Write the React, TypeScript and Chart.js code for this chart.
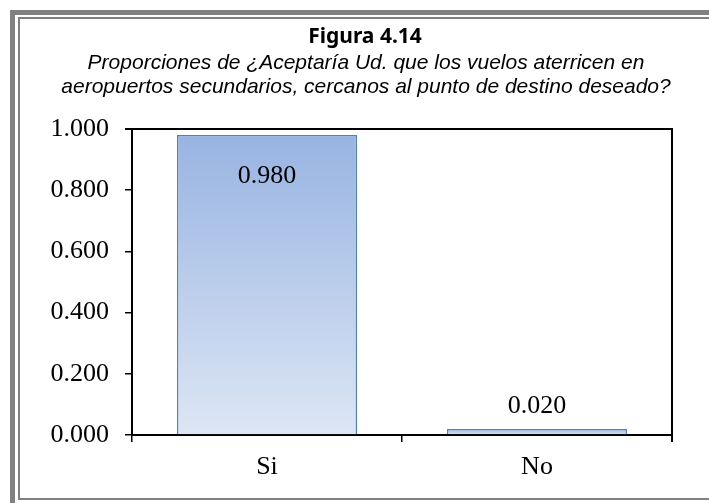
import React, { useEffect, useRef } from "react";
import { Chart, registerables } from "chart.js";

Chart.register(...registerables);

const categories = ["Si", "No"];
const values = [0.98, 0.02];
const yTicks = [0, 0.2, 0.4, 0.6, 0.8, 1.0];
const titleText = "Figura 4.14";
const subtitleLines = [
  "Proporciones de ¿Aceptaría Ud. que los vuelos aterricen en",
  "aeropuertos secundarios, cercanos al punto de destino deseado?",
];

const W = 709;
const H = 503;
const SERIF = "'Liberation Serif', 'Times New Roman', serif";

export default function App() {
  const ref = useRef<HTMLCanvasElement | null>(null);

  useEffect(() => {
    document.body.style.margin = "0";
    const canvas = ref.current;
    if (!canvas) return;

    const framePlugin = {
      id: "frame",
      beforeDraw(chart: any) {
        const ctx = chart.ctx;
        ctx.save();
        ctx.fillStyle = "#ffffff";
        ctx.fillRect(0, 0, W, H);
        ctx.fillStyle = "#808080";
        // outer thick frame
        ctx.fillRect(10, 10, W - 10, 5);
        ctx.fillRect(10, 10, 5, H - 10);
        // inner thin frame
        ctx.fillRect(18, 17, W - 18, 2);
        ctx.fillRect(18, 17, 2, H - 17 - 4);
        ctx.fillRect(18, 498, W - 18, 2);
        // title
        ctx.fillStyle = "#000000";
        ctx.textAlign = "center";
        ctx.textBaseline = "middle";
        ctx.font = "bold 21px 'Noto Sans', 'Liberation Sans', sans-serif";
        ctx.fillText(titleText, 365, 37);
        ctx.font = "italic 21px 'Liberation Sans', Arial, sans-serif";
        ctx.fillText(subtitleLines[0], 366, 63);
        ctx.fillText(subtitleLines[1], 366, 87);
        ctx.restore();
      },
      afterDraw(chart: any) {
        const ctx = chart.ctx;
        const a = chart.chartArea;
        ctx.save();
        ctx.strokeStyle = "#000000";
        ctx.lineWidth = 2;
        ctx.beginPath();
        ctx.moveTo(a.left - 7, a.top);
        ctx.lineTo(a.right, a.top);
        ctx.lineTo(a.right, a.bottom + 7);
        ctx.stroke();
        // data labels
        const meta = chart.getDatasetMeta(0);
        ctx.fillStyle = "#000000";
        ctx.font = "26px " + SERIF;
        ctx.textAlign = "center";
        ctx.textBaseline = "middle";
        meta.data.forEach((bar: any, i: number) => {
          const v = values[i];
          const label = v.toFixed(3);
          const height = bar.base - bar.y;
          if (height > 80) {
            ctx.fillText(label, bar.x, bar.y + 41);
          } else {
            ctx.fillText(label, bar.x, bar.y - 23);
          }
        });
        ctx.restore();
      },
    };

    const chart = new Chart(canvas, {
      type: "bar",
      data: {
        labels: categories,
        datasets: [
          {
            data: values,
            backgroundColor: (context: any) => {
              const ch = context.chart;
              const ys = ch.scales && ch.scales.y;
              if (!ch.chartArea || !ys || context.parsed === undefined) return "#b9cbea";
              const v = values[context.dataIndex];
              const top = ys.getPixelForValue(v);
              const bottom = ys.getPixelForValue(0);
              const g = ch.ctx.createLinearGradient(0, top, 0, bottom);
              g.addColorStop(0, "#98b4e2");
              g.addColorStop(1, "#dde6f4");
              return g;
            },
            borderColor: "#4f81bd",
            borderWidth: 1.5,
            borderSkipped: "bottom",
            barPercentage: 0.667,
            categoryPercentage: 1,
          },
        ],
      },
      options: {
        responsive: false,
        animation: false,
        devicePixelRatio: 1,
        layout: { padding: { left: 18, right: 37, top: 129, bottom: 25 } },
        plugins: {
          legend: { display: false },
          tooltip: { enabled: false },
          title: { display: false },
        },
        scales: {
          x: {
            afterFit: (s: any) => {
              s.height = 43;
            },
            grid: {
              display: true,
              offset: true,
              drawOnChartArea: false,
              drawTicks: true,
              tickLength: 7,
              color: "#000000",
              lineWidth: 1.5,
            },
            border: { display: true, color: "#000000", width: 2 },
            ticks: {
              color: "#000000",
              padding: 10,
              font: { family: SERIF, size: 26 },
            },
          },
          y: {
            min: 0,
            max: 1,
            afterFit: (s: any) => {
              s.width = 114;
            },
            afterBuildTicks: (s: any) => {
              s.ticks = yTicks.map((v) => ({ value: v }));
            },
            grid: {
              display: true,
              drawOnChartArea: false,
              drawTicks: true,
              tickLength: 7,
              color: "#000000",
              lineWidth: 1.5,
            },
            border: { display: true, color: "#000000", width: 2 },
            ticks: {
              color: "#000000",
              padding: 16,
              callback: (v: any) => Number(v).toFixed(3),
              font: { family: SERIF, size: 26 },
            },
          },
        },
      },
      plugins: [framePlugin],
    });

    return () => chart.destroy();
  }, []);

  return (
    <div style={{ position: "absolute", left: 0, top: 0, width: W, height: H }}>
      <canvas ref={ref} width={W} height={H} style={{ width: W, height: H, display: "block" }} />
    </div>
  );
}
